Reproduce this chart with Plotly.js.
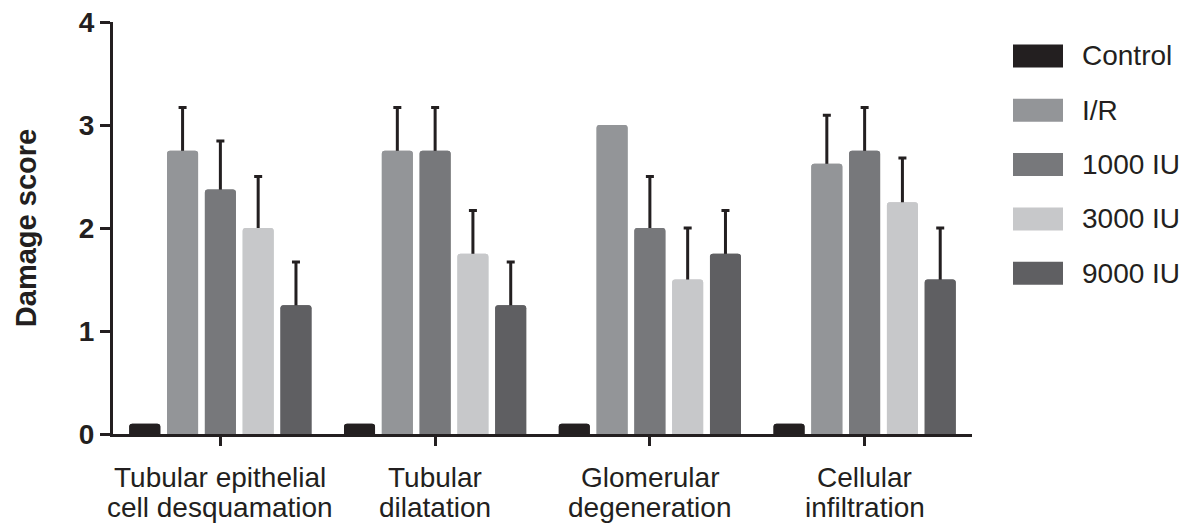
<!DOCTYPE html>
<html><head><meta charset="utf-8">
<script src="https://cdn.plot.ly/plotly-3.0.1.min.js"></script>
<style>html,body{margin:0;padding:0;background:#fff}#chart{width:1190px;height:528px}</style>
</head><body><div id="chart"></div>
<script>
const categoryLine1 = ["Tubular epithelial", "Tubular", "Glomerular", "Cellular"];
const categoryLine2 = ["cell desquamation", "dilatation", "degeneration", "infiltration"];
const seriesNames = ["Control", "I/R", "1000 IU", "3000 IU", "9000 IU"];
const control = [0.1, 0.1, 0.1, 0.1];
const ir = [2.75, 2.75, 3.0, 2.625];
const iu1000 = [2.375, 2.75, 2.0, 2.75];
const iu3000 = [2.0, 1.75, 1.5, 2.25];
const iu9000 = [1.25, 1.25, 1.75, 1.5];
const controlErr = [NaN, NaN, NaN, NaN];
const irErr = [0.42, 0.42, NaN, 0.47];
const iu1000Err = [0.47, 0.42, 0.5, 0.42];
const iu3000Err = [0.5, 0.42, 0.5, 0.43];
const iu9000Err = [0.42, 0.42, 0.42, 0.5];
const yTicks = [0, 1, 2, 3, 4];

const colors = ["#231f20", "#939598", "#77787b", "#c7c8ca", "#5f5f62"];
const values = [control, ir, iu1000, iu3000, iu9000];
const errs = [controlErr, irErr, iu1000Err, iu3000Err, iu9000Err];
const FONT = "Liberation Sans, Arial, sans-serif";
const xIdx = categoryLine1.map((_, i) => i);

const traces = [];
// error-bar carriers (whisker runs from the bar base, hidden by the bar drawn over it)
values.forEach((v, i) => {
  const e = errs[i];
  traces.push({
    type: "bar", name: seriesNames[i], x: xIdx, y: v, offsetgroup: "g" + i,
    marker: {color: colors[i], line: {width: 0}, cornerradius: 3},
    error_y: {type: "data", array: e, symmetric: false,
              arrayminus: v.map((y, k) => isNaN(e[k]) ? NaN : y),
              visible: e.some(x => !isNaN(x)), color: "#231f20", thickness: 3, width: 4},
    showlegend: false, hoverinfo: "skip"
  });
});
// visible bars on top
values.forEach((v, i) => {
  traces.push({
    type: "bar", name: seriesNames[i], x: xIdx, y: v, offsetgroup: "g" + i,
    marker: {color: colors[i], line: {width: 0}, cornerradius: 3},
    showlegend: false, hoverinfo: "skip"
  });
});

const shapes = [], annotations = [];
const legX0 = 1013, legX1 = 1063, legTop = 56, legStep = 54.3;
seriesNames.forEach((n, i) => {
  const cy = legTop + i * legStep;
  shapes.push({type: "rect", xref: "paper", yref: "paper",
    x0: (legX0 - 113) / 859, x1: (legX1 - 113) / 859,
    y0: (434 - (cy + 11.5)) / 412, y1: (434 - (cy - 11.5)) / 412,
    fillcolor: colors[i], line: {width: 0}});
  annotations.push({xref: "paper", yref: "paper", x: (1080 - 113) / 859, y: (434 - cy) / 412,
    xanchor: "left", yanchor: "middle", text: n, showarrow: false,
    font: {family: FONT, size: 28, color: "#231f20"}});
});
xIdx.forEach(i => {
  annotations.push({xref: "x", yref: "y", x: i, y: 0, yshift: -43, xanchor: "center", yanchor: "middle",
    text: categoryLine1[i], showarrow: false, font: {family: FONT, size: 28, color: "#231f20"}});
  annotations.push({xref: "x", yref: "y", x: i, y: 0, yshift: -73, xanchor: "center", yanchor: "middle",
    text: categoryLine2[i], showarrow: false, font: {family: FONT, size: 28, color: "#231f20"}});
});

const layout = {
  width: 1190, height: 528,
  margin: {l: 113, r: 218, t: 22, b: 94},
  paper_bgcolor: "#fff", plot_bgcolor: "#fff",
  barmode: "group", bargap: 0.12, bargroupgap: 0.18,
  showlegend: false,
  xaxis: {
    range: [-0.5, 3.5], tickmode: "array", tickvals: xIdx, ticktext: xIdx.map(() => ""),
    showline: true, linecolor: "#231f20", linewidth: 3, showgrid: false, zeroline: false,
    ticks: "outside", ticklen: 9, tickwidth: 3, tickcolor: "#231f20"
  },
  yaxis: {
    range: [0, 4], tickmode: "array", tickvals: yTicks, ticktext: yTicks.map(String),
    showline: true, linecolor: "#231f20", linewidth: 3, showgrid: false, zeroline: false,
    ticks: "outside", ticklen: 10, tickwidth: 3, tickcolor: "#231f20",
    ticklabelstandoff: 0,
    tickfont: {family: FONT, size: 28, color: "#231f20", weight: "bold"},
    title: {text: "<b>Damage score</b>", standoff: 34,
      font: {family: FONT, size: 29, color: "#231f20"}}
  },
  shapes: shapes, annotations: annotations
};
Plotly.newPlot("chart", traces, layout, {staticPlot: true, displayModeBar: false});
</script></body></html>
